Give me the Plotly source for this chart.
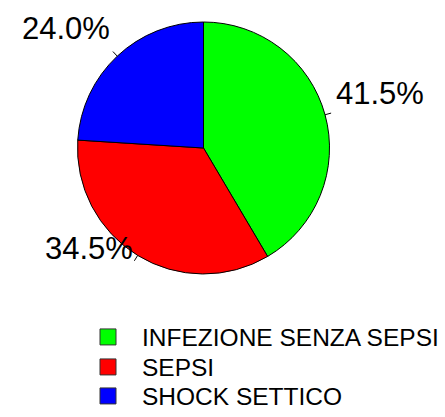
import math
import plotly.graph_objects as go

categories = ["INFEZIONE SENZA SEPSI", "SEPSI", "SHOCK SETTICO"]
values = [41.5, 34.5, 24.0]
colors = ["#00FF00", "#FF0000", "#0000FF"]

W, H = 445, 417
CX, CY, R = 203.5, 148.0, 126.0
FONT = "Liberation Sans, Arial, sans-serif"

fig = go.Figure()
fig.add_trace(go.Pie(
    labels=categories,
    values=values,
    sort=False,
    direction="clockwise",
    rotation=0,
    textinfo="none",
    hoverinfo="label+percent",
    showlegend=False,
    marker=dict(colors=colors, line=dict(color="black", width=1)),
    domain=dict(x=[(CX - R) / W, (CX + R) / W], y=[1 - (CY + R) / H, 1 - (CY - R) / H]),
))

# legend entries (one legend per row so the row spacing matches the reference)
legend_ids = ["legend", "legend2", "legend3"]
for name, col, lid in zip(categories, colors, legend_ids):
    fig.add_trace(go.Scatter(
        x=[None], y=[None], mode="markers", name=name, legend=lid,
        marker=dict(symbol="square", size=16, color=col, line=dict(color="#333333", width=1)),
        showlegend=True, hoverinfo="skip",
    ))

total = sum(values)
cum = 0.0
annotations = []
shapes = []
for v in values:
    mid = (cum + v / 2) / total
    cum += v
    th = 2 * math.pi * mid
    dx, dy = math.sin(th), -math.cos(th)
    x1, y1 = CX + R * dx, CY + R * dy
    x2, y2 = CX + 1.05 * R * dx, CY + 1.05 * R * dy
    shapes.append(dict(type="line", xref="paper", yref="paper",
                       x0=x1 / W, y0=1 - y1 / H, x1=x2 / W, y1=1 - y2 / H,
                       line=dict(color="black", width=1)))
    xt, yt = CX + 1.1 * R * dx, CY + 1.1 * R * dy
    right = dx > 0
    annotations.append(dict(
        x=xt / W, y=1 - yt / H, xref="paper", yref="paper",
        text=f"{v / total * 100:.1f}%", showarrow=False,
        xanchor="left" if right else "right", yanchor="middle",
        xshift=-3.5 if right else 3.5, yshift=18,
        font=dict(family=FONT, size=31, color="black"),
    ))

row_y = [337, 367, 396]
legend_cfg = {}
for lid, ry in zip(legend_ids, row_y):
    legend_cfg[lid] = dict(
        x=74 / W, y=1 - ry / H, xanchor="left", yanchor="middle",
        font=dict(family=FONT, size=24.5, color="black"), itemwidth=58,
        bgcolor="rgba(0,0,0,0)", borderwidth=0,
    )

fig.update_layout(
    width=W, height=H,
    margin=dict(l=0, r=0, t=0, b=0, autoexpand=False),
    paper_bgcolor="white",
    plot_bgcolor="white",
    font=dict(family=FONT, color="black"),
    showlegend=True,
    xaxis=dict(visible=False),
    yaxis=dict(visible=False),
    annotations=annotations,
    shapes=shapes,
    **legend_cfg,
)

fig.write_html(
    "out.html",
    config={"displayModeBar": False},
    post_script="document.body.style.margin='0';document.body.style.overflow='hidden';",
)
